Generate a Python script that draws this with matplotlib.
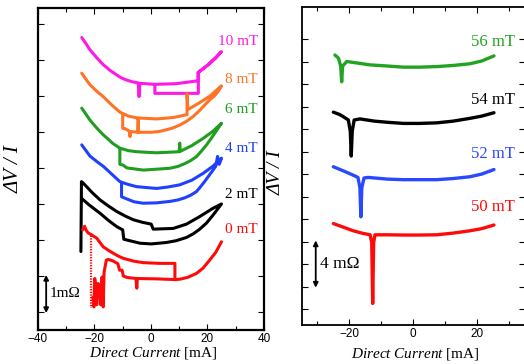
import matplotlib
matplotlib.use("Agg")
import matplotlib.pyplot as plt

# ---- left panel: low field loops (x in mA, y in mOhm, offset per field) ----
m10_x = [-24.5, -23.0, -21.6, -19.2, -16.8, -14.5, -12.1, -10.5, -8.6, -6.5, -4.5, -4.2, -3.9, 1.4, 9.1,
         16.7, 16.7, 18.8, 20.8, 23.0, 25.0, 20.8, 16.8, 16.8, 1.4, 1.4]
m10_y = [7.62, 7.45, 7.28, 7.06, 6.86, 6.71, 6.58, 6.50, 6.44, 6.39, 6.36, 5.98, 6.35, 6.32, 6.34,
         6.42, 6.65, 6.77, 6.90, 7.05, 7.23, 6.90, 6.65, 6.07, 6.07, 6.32]

m8_x = [-24.5, -23.0, -21.6, -19.2, -16.9, -13.5, -11.0, -8.0, -5.1, 2.0, 8.0, 12.8, 12.8, 13.1, 17.0,
        21.0, 25.0, 23.8, 22.5, 21.0, 19.7, 17.3, 15.0, 12.5, 10.2, 7.8, 5.5, 2.8, 0.1, -4.5, -4.5,
        -4.6, -7.3, -7.4, -7.6, -9.2, -10.0, -10.0]
m8_y = [6.63, 6.46, 6.31, 6.13, 5.98, 5.72, 5.55, 5.44, 5.39, 5.36, 5.40, 5.48, 6.07, 5.62, 5.80,
        6.00, 6.28, 6.12, 6.00, 5.90, 5.80, 5.60, 5.43, 5.29, 5.19, 5.11, 5.06, 5.01, 4.99, 4.99, 5.38,
        4.99, 5.01, 4.87, 5.02, 5.09, 5.10, 5.46]

m6_x = [-24.5, -23.0, -21.6, -19.2, -16.9, -15.0, -13.5, -11.0, -8.0, -5.1, 2.0, 10.0, 10.2, 10.4,
        14.5, 18.5, 22.0, 25.0, 23.8, 22.5, 21.0, 19.5, 17.8, 16.1, 14.0, 12.0, 9.5, 6.7, -2.7,
        -8.5, -9.9, -11.0, -11.0]
m6_y = [5.66, 5.49, 5.33, 5.11, 4.92, 4.79, 4.68, 4.55, 4.48, 4.45, 4.42, 4.45, 4.69, 4.46,
        4.62, 4.82, 5.02, 5.24, 5.10, 4.95, 4.78, 4.62, 4.46, 4.31, 4.20, 4.12, 4.04, 3.99, 3.94,
        4.00, 4.08, 4.10, 4.52]

m4_x = [-24.5, -23.0, -21.6, -19.2, -16.8, -15.0, -13.5, -11.0, -8.0, -5.1, 2.0, 6.0, 10.2, 14.5,
        18.5, 22.0, 25.0, 24.2, 23.6, 23.0, 22.0, 20.5, 19.0, 17.5, 16.1, 14.0, 12.0, 9.5, 6.7, 2.0,
        -2.7, -6.0, -9.2, -10.4, -10.4]
m4_y = [4.64, 4.48, 4.33, 4.18, 4.04, 3.91, 3.80, 3.62, 3.54, 3.48, 3.43, 3.47, 3.53, 3.66,
        3.85, 4.05, 4.27, 4.10, 4.32, 4.05, 3.94, 3.78, 3.62, 3.47, 3.34, 3.24, 3.17, 3.11, 3.07, 3.03,
        3.02, 3.06, 3.16, 3.20, 3.57]

m2_x = [-24.8, -24.6, -24.1, -21.0, -18.0, -15.0, -12.1, -9.0, -6.2, -3.0, 0.1, 0.8, 7.9, 12.6, 17.3,
        22.0, 25.0, 22.0, 19.7, 17.3, 15.0, 12.6, 9.0, 5.5, 0.1, -3.9, -9.6, -10.0, -12.1, -15.0,
        -18.0, -20.0, -22.0, -24.5]
m2_y = [1.68, 3.62, 3.59, 3.33, 3.11, 2.94, 2.79, 2.66, 2.56, 2.49, 2.44, 2.30, 2.32, 2.44, 2.65,
        2.88, 3.00, 2.69, 2.47, 2.30, 2.17, 2.07, 1.98, 1.93, 1.89, 1.91, 2.02, 2.28, 2.37, 2.54,
        2.74, 2.86, 2.98, 3.15]

m0_x = [-24.2, -23.5, -23.0, -22.3, -21.0, -19.2, -16.9, -15.0, -13.3, -11.5, -9.8, -6.0, -2.7, 3.0,
        8.5, 8.5, 10.2, 13.0, 16.1, 18.5, 20.8, 23.0, 25.0]
m0_y = [2.28, 2.38, 2.28, 2.20, 2.14, 2.05, 1.81, 1.71, 1.63, 1.55, 1.49, 1.41, 1.37, 1.35,
        1.35, 0.90, 0.91, 0.96, 1.07, 1.22, 1.44, 1.66, 1.95]
m0_lo_x = [8.5, 2.0, -4.8, -5.0, -5.3, -8.5, -9.8, -10.2, -11.1, -11.7, -13.5, -15.1, -15.8, -16.6,
           -16.9, -17.3, -17.8, -18.2, -18.7, -19.2, -19.5, -19.9, -20.2, -20.5]
m0_lo_y = [0.90, 0.92, 0.93, 0.66, 0.93, 0.96, 1.00, 1.16, 1.16, 1.34, 1.42, 1.46, 1.44, 1.10,
           0.14, 0.97, 0.20, 0.70, 0.79, 0.20, 0.70, 0.93, 0.14, 0.40]
m0_jump_x = [-21.2, -21.2]
m0_jump_y = [2.20, 0.10]

low_curves = [("10 mT", "#ff19e6", m10_x, m10_y, 7.51),
              ("8 mT", "#ff7326", m8_x, m8_y, 6.46),
              ("6 mT", "#1f9e1f", m6_x, m6_y, 5.61),
              ("4 mT", "#2040ff", m4_x, m4_y, 4.55),
              ("2 mT", "black", m2_x, m2_y, 3.25),
              ("0 mT", "#ff0a0a", m0_x, m0_y, 2.28)]

# ---- right panel: high field traces ----
h56_x = [-24.4, -23.3, -22.6, -22.3, -22.0, -20.7, -17.0, -13.4, -8.0, -3.0, 2.0, 7.4, 12.5, 17.8, 21.5, 25.3]
h56_y = [22.58, 22.30, 21.60, 20.20, 21.60, 22.00, 21.85, 21.70, 21.60, 21.50, 21.50, 21.55, 21.65, 21.80, 22.05, 22.50]
h54_x = [-24.9, -23.0, -21.8, -20.2, -19.6, -19.3, -19.0, -18.4, -16.6, -12.0, -8.0, -3.0, 2.0, 7.4, 12.5, 17.8, 21.5, 25.3]
h54_y = [17.50, 17.30, 17.10, 16.80, 15.80, 13.60, 15.80, 16.80, 16.90, 16.70, 16.60, 16.50, 16.50, 16.55, 16.70, 16.95, 17.15, 17.45]
h52_x = [-24.9, -21.5, -18.7, -17.2, -16.6, -16.3, -16.0, -15.3, -14.0, -8.0, -3.0, 2.0, 7.4, 12.5, 17.8, 21.5, 25.3]
h52_y = [12.65, 12.25, 11.90, 11.70, 10.80, 8.20, 10.80, 11.65, 11.70, 11.55, 11.50, 11.50, 11.50, 11.60, 11.76, 12.00, 12.40]
h50_x = [-24.9, -21.5, -18.7, -16.0, -13.4, -12.9, -12.6, -12.3, -11.9, -8.0, -3.0, 2.0, 7.4, 12.5, 17.8, 21.5, 25.3]
h50_y = [7.60, 7.25, 6.96, 6.75, 6.60, 5.90, 0.50, 5.90, 6.60, 6.60, 6.58, 6.58, 6.60, 6.75, 6.96, 7.15, 7.47]

high_curves = [("56 mT", "#22a322", h56_x, h56_y, 23.7),
               ("54 mT", "black", h54_x, h54_y, 18.6),
               ("52 mT", "#2a48ff", h52_x, h52_y, 13.8),
               ("50 mT", "#ff0a0a", h50_x, h50_y, 9.1)]

SERIF = "Liberation Serif"
plt.rcParams.update({"font.family": "Liberation Sans", "mathtext.fontset": "custom",
                     "mathtext.rm": SERIF, "mathtext.it": SERIF + ":italic"})

fig = plt.figure(figsize=(5.24, 3.64), dpi=100)
axl = fig.add_axes([0.0725, 0.0934, 0.431, 0.8846])
axr = fig.add_axes([0.5763, 0.107, 0.4256, 0.8736])

for ax in (axl, axr):
    ax.tick_params(which="both", direction="in", top=True, right=True, labelsize=8.5, pad=2,
                   width=0.8)
    ax.tick_params(which="major", length=4)
    ax.tick_params(which="minor", length=3)
    ax.set_xlabel(r"$\mathit{Direct\ Current}$ [mA]", fontsize=11, family=SERIF)

# left
for lab, col, xs, ys, ylab in low_curves:
    axl.plot(xs, ys, color=col, lw=2.2, solid_joinstyle="round", solid_capstyle="round")
    axl.text(37.9, ylab, lab, color=col, ha="right", va="center", fontsize=11, family=SERIF)
axl.plot(m0_lo_x, m0_lo_y, color="#ff0a0a", lw=2.2, solid_joinstyle="round")
axl.plot(m0_jump_x, m0_jump_y, color="#ff0a0a", lw=1.6, ls=(0, (0.6, 0.6)))
axl.annotate("", xy=(-37.1, 1.03), xytext=(-37.1, -0.03),
             arrowprops=dict(arrowstyle="<|-|>", lw=1.3, color="k", mutation_scale=7,
                             shrinkA=0, shrinkB=0))
axl.text(-36.0, 0.52, "1m\u03a9", fontsize=11, family=SERIF, va="center", ha="left")
axl.set_xlim(-40, 40)
axl.set_ylim(-0.5, 8.44)
axl.set_xticks([-40, -20, 0, 20, 40])
axl.set_xticks([-30, -10, 10, 30], minor=True)
axl.set_yticks(range(0, 9))
axl.set_yticklabels([])
axl.set_xticklabels(["\u221240", "\u221220", "0", "20", "40"])
for s in axl.spines.values():
    s.set_linewidth(1.6)
axl.set_ylabel("\u0394V / I", fontsize=15, family=SERIF, fontstyle="italic")
axl.xaxis.set_label_coords(0.51, -0.048)
axl.yaxis.set_label_coords(-0.062, 0.5)

# right
for lab, col, xs, ys, ylab in high_curves:
    axr.plot(xs, ys, color=col, lw=2.4, solid_joinstyle="round", solid_capstyle="round")
    axr.text(31.9, ylab, lab, color=col, ha="right", va="center", fontsize=12, family=SERIF)
axr.annotate("", xy=(-30.4, 6.1), xytext=(-30.4, 1.9),
             arrowprops=dict(arrowstyle="<|-|>", lw=1.3, color="k", mutation_scale=7,
                             shrinkA=0, shrinkB=0))
axr.text(-29.2, 4.0, "4 m\u03a9", fontsize=12.5, family=SERIF, va="center", ha="left")
axr.set_xlim(-34.7, 35.0)
axr.set_ylim(-1.42, 26.84)
axr.set_xticks([-20, 0, 20])
axr.set_xticks([-30, -10, 10, 30], minor=True)
axr.set_yticks(range(0, 25, 2))
axr.set_yticklabels([])
axr.set_xticklabels(["\u221220", "0", "20"])
for s in axr.spines.values():
    s.set_linewidth(1.3)
axr.set_ylabel("\u0394V / I", fontsize=14, family=SERIF, fontstyle="italic")
axr.xaxis.set_label_coords(0.51, -0.066)
axr.yaxis.set_label_coords(-0.076, 0.48)

fig.savefig("out.png", dpi=100)
